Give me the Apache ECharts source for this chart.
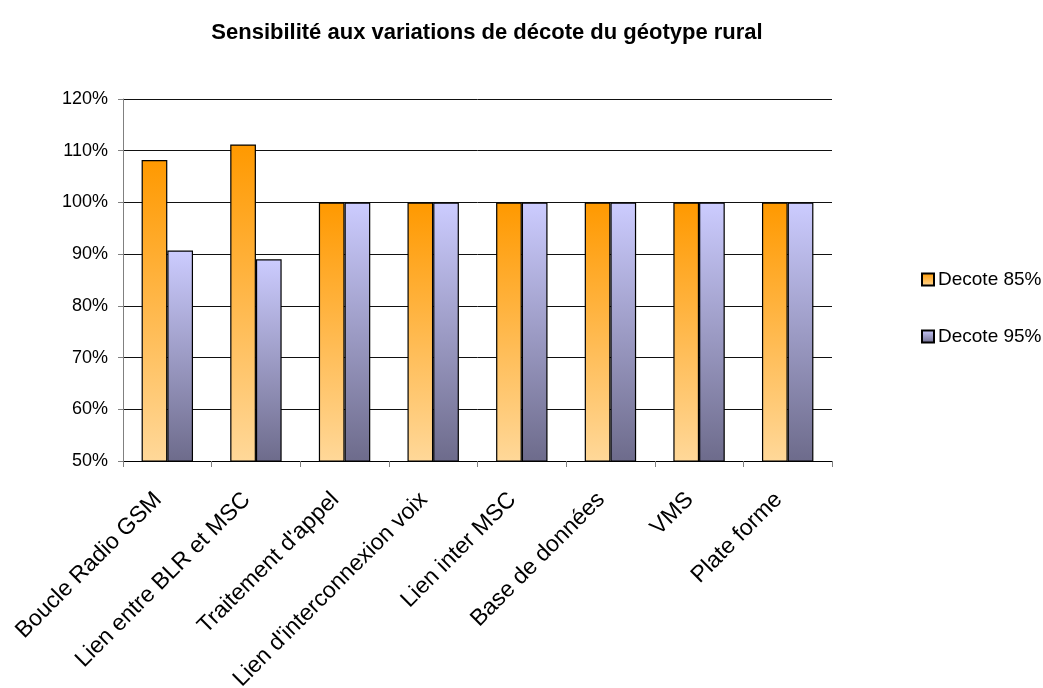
<!DOCTYPE html>
<html>
<head>
<meta charset="utf-8">
<script src="https://cdn.jsdelivr.net/npm/echarts@6/dist/echarts.min.js"></script>
<style>
  html, body { margin: 0; padding: 0; background: #fff; }
  #chart { width: 1043px; height: 688px; }
</style>
</head>
<body>
<div id="chart"></div>
<script>
// Categories and values (percent)
const categories = [
  'Boucle Radio GSM',
  'Lien entre BLR et MSC',
  "Traitement d'appel",
  "Lien d'interconnexion voix",
  'Lien inter MSC',
  'Base de données',
  'VMS',
  'Plate forme'
];
const decote85 = [108.2, 111.2, 100, 100, 100, 100, 100, 100];
const decote95 = [90.7, 89.0, 100, 100, 100, 100, 100, 100];
const seriesNames = ['Decote 85%', 'Decote 95%'];
const titleText = 'Sensibilité aux variations de décote du géotype rural';

const FONT = 'Liberation Sans, Arial, sans-serif';

const chart = echarts.init(document.getElementById('chart'), null, { renderer: 'canvas' });

const orangeFill = new echarts.graphic.LinearGradient(0, 0, 0, 1, [
  { offset: 0, color: '#FF9900' },
  { offset: 1, color: '#FFD899' }
]);
const purpleFill = new echarts.graphic.LinearGradient(0, 0, 0, 1, [
  { offset: 0, color: '#CCCCFF' },
  { offset: 1, color: '#6D6B8B' }
]);

chart.setOption({
  animation: false,
  backgroundColor: '#ffffff',
  title: {
    text: titleText,
    left: 482,
    textAlign: 'center',
    top: 17,
    textStyle: { fontFamily: FONT, fontSize: 22, fontWeight: 'bold', color: '#000' }
  },
  legend: {
    orient: 'vertical',
    left: 916,
    top: 265,
    itemWidth: 12,
    itemHeight: 12,
    itemGap: 38,
    icon: 'rect',
    textStyle: { fontFamily: FONT, fontSize: 19, color: '#000', padding: [0, 0, 0, -1] },
    data: seriesNames
  },
  grid: {
    left: 123, right: 211, top: 99, bottom: 227,
    containLabel: false,
    outerBoundsMode: 'none'
  },
  xAxis: {
    type: 'category',
    data: categories,
    boundaryGap: true,
    axisLine: { lineStyle: { color: '#000', width: 1 } },
    axisTick: { show: true, length: 6, lineStyle: { color: '#808080' } },
    axisLabel: {
      rotate: 45,
      interval: 0,
      margin: 26,
      padding: [0, 13, 0, 0],
      fontFamily: FONT,
      fontSize: 23,
      color: '#000'
    }
  },
  yAxis: {
    type: 'value',
    min: 50,
    max: 120,
    interval: 10,
    axisLine: { show: true, lineStyle: { color: '#808080', width: 1 } },
    axisTick: { show: true, length: 5, lineStyle: { color: '#808080' } },
    axisLabel: {
      formatter: '{value}%',
      margin: 15,
      fontFamily: FONT,
      fontSize: 18,
      color: '#000'
    },
    splitLine: { show: true, lineStyle: { color: '#111', width: 1 } }
  },
  series: [
    {
      name: seriesNames[0],
      type: 'bar',
      data: decote85,
      barGap: '0%',
      barCategoryGap: '42%',
      itemStyle: { color: orangeFill, borderColor: '#000', borderWidth: 1.2 }
    },
    {
      name: seriesNames[1],
      type: 'bar',
      data: decote95,
      barGap: '0%',
      barCategoryGap: '42%',
      itemStyle: { color: purpleFill, borderColor: '#000', borderWidth: 1.2 }
    }
  ]
});
</script>
</body>
</html>
